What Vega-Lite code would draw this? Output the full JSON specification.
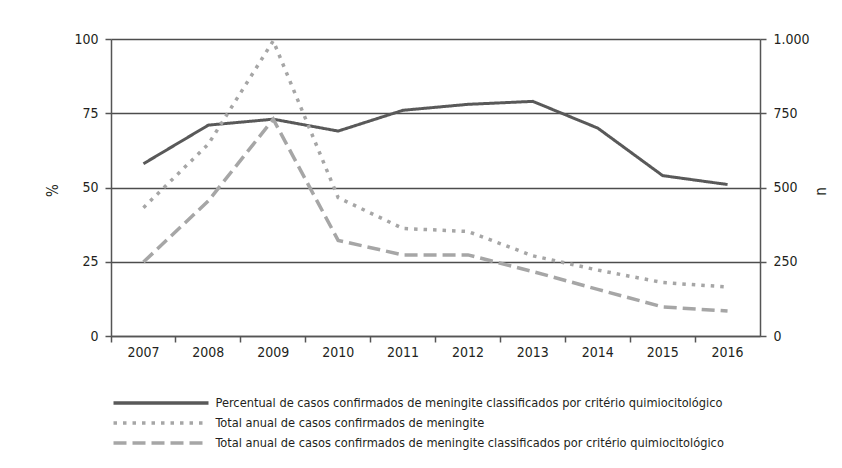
{
  "$schema": "https://vega.github.io/schema/vega-lite/v6.json",
  "width": 649,
  "height": 297,
  "autosize": {"type": "none"},
  "padding": {"left": 111, "top": 39, "right": 82, "bottom": 132},
  "background": "white",
  "config": {
    "view": {"stroke": null},
    "font": "DejaVu Sans Condensed, Liberation Sans Narrow, sans-serif",
    "axis": {
      "labelFont": "DejaVu Sans Condensed, Liberation Sans Narrow, sans-serif",
      "titleFont": "DejaVu Sans Condensed, Liberation Sans Narrow, sans-serif",
      "labelFontSize": 14,
      "labelColor": "#231f20",
      "titleFontSize": 15,
      "titleFontWeight": "normal",
      "titleColor": "#231f20",
      "domainColor": "#555555",
      "domainWidth": 1.5,
      "tickColor": "#555555",
      "tickWidth": 1.5,
      "tickSize": 6
    },
    "legend": {
      "orient": "none",
      "legendX": 0.5,
      "legendY": 354,
      "padding": 0,
      "direction": "vertical",
      "symbolType": "stroke",
      "symbolSize": 9025,
      "symbolStrokeWidth": 3.5,
      "clipHeight": 20,
      "rowPadding": 0,
      "labelFont": "DejaVu Sans Condensed, Liberation Sans Narrow, sans-serif",
      "labelFontSize": 12.7,
      "labelColor": "#231f20",
      "labelOffset": 5,
      "labelLimit": 700
    }
  },
  "data": {
    "values": [
      {"ano": "2007", "eixo": "pct", "serie": "Percentual de casos confirmados de meningite classificados por critério quimiocitológico", "valor": 58},
      {"ano": "2008", "eixo": "pct", "serie": "Percentual de casos confirmados de meningite classificados por critério quimiocitológico", "valor": 71},
      {"ano": "2009", "eixo": "pct", "serie": "Percentual de casos confirmados de meningite classificados por critério quimiocitológico", "valor": 73},
      {"ano": "2010", "eixo": "pct", "serie": "Percentual de casos confirmados de meningite classificados por critério quimiocitológico", "valor": 69},
      {"ano": "2011", "eixo": "pct", "serie": "Percentual de casos confirmados de meningite classificados por critério quimiocitológico", "valor": 76},
      {"ano": "2012", "eixo": "pct", "serie": "Percentual de casos confirmados de meningite classificados por critério quimiocitológico", "valor": 78},
      {"ano": "2013", "eixo": "pct", "serie": "Percentual de casos confirmados de meningite classificados por critério quimiocitológico", "valor": 79},
      {"ano": "2014", "eixo": "pct", "serie": "Percentual de casos confirmados de meningite classificados por critério quimiocitológico", "valor": 70},
      {"ano": "2015", "eixo": "pct", "serie": "Percentual de casos confirmados de meningite classificados por critério quimiocitológico", "valor": 54},
      {"ano": "2016", "eixo": "pct", "serie": "Percentual de casos confirmados de meningite classificados por critério quimiocitológico", "valor": 51},
      {"ano": "2007", "eixo": "n", "serie": "Total anual de casos confirmados de meningite", "valor": 432},
      {"ano": "2008", "eixo": "n", "serie": "Total anual de casos confirmados de meningite", "valor": 646},
      {"ano": "2009", "eixo": "n", "serie": "Total anual de casos confirmados de meningite", "valor": 994},
      {"ano": "2010", "eixo": "n", "serie": "Total anual de casos confirmados de meningite", "valor": 466},
      {"ano": "2011", "eixo": "n", "serie": "Total anual de casos confirmados de meningite", "valor": 362},
      {"ano": "2012", "eixo": "n", "serie": "Total anual de casos confirmados de meningite", "valor": 352},
      {"ano": "2013", "eixo": "n", "serie": "Total anual de casos confirmados de meningite", "valor": 270},
      {"ano": "2014", "eixo": "n", "serie": "Total anual de casos confirmados de meningite", "valor": 222},
      {"ano": "2015", "eixo": "n", "serie": "Total anual de casos confirmados de meningite", "valor": 180},
      {"ano": "2016", "eixo": "n", "serie": "Total anual de casos confirmados de meningite", "valor": 165},
      {"ano": "2007", "eixo": "n", "serie": "Total anual de casos confirmados de meningite classificados por critério quimiocitológico", "valor": 249},
      {"ano": "2008", "eixo": "n", "serie": "Total anual de casos confirmados de meningite classificados por critério quimiocitológico", "valor": 455},
      {"ano": "2009", "eixo": "n", "serie": "Total anual de casos confirmados de meningite classificados por critério quimiocitológico", "valor": 730},
      {"ano": "2010", "eixo": "n", "serie": "Total anual de casos confirmados de meningite classificados por critério quimiocitológico", "valor": 322},
      {"ano": "2011", "eixo": "n", "serie": "Total anual de casos confirmados de meningite classificados por critério quimiocitológico", "valor": 273},
      {"ano": "2012", "eixo": "n", "serie": "Total anual de casos confirmados de meningite classificados por critério quimiocitológico", "valor": 273},
      {"ano": "2013", "eixo": "n", "serie": "Total anual de casos confirmados de meningite classificados por critério quimiocitológico", "valor": 217},
      {"ano": "2014", "eixo": "n", "serie": "Total anual de casos confirmados de meningite classificados por critério quimiocitológico", "valor": 157},
      {"ano": "2015", "eixo": "n", "serie": "Total anual de casos confirmados de meningite classificados por critério quimiocitológico", "valor": 98},
      {"ano": "2016", "eixo": "n", "serie": "Total anual de casos confirmados de meningite classificados por critério quimiocitológico", "valor": 84}
    ]
  },
  "encoding": {
    "x": {
      "field": "ano",
      "type": "ordinal",
      "bandPosition": 0.5,
      "scale": {"type": "band", "paddingInner": 0, "paddingOuter": 0},
      "axis": {"title": null, "bandPosition": 0, "labelAngle": 0, "labelPadding": 3, "grid": false}
    },
    "color": {
      "field": "serie",
      "type": "nominal",
      "title": null,
      "scale": {
        "domain": [
          "Percentual de casos confirmados de meningite classificados por critério quimiocitológico",
          "Total anual de casos confirmados de meningite",
          "Total anual de casos confirmados de meningite classificados por critério quimiocitológico"
        ],
        "range": ["#595959", "#a6a6a6", "#a6a6a6"]
      }
    },
    "strokeDash": {
      "field": "serie",
      "type": "nominal",
      "title": null,
      "scale": {
        "domain": [
          "Percentual de casos confirmados de meningite classificados por critério quimiocitológico",
          "Total anual de casos confirmados de meningite",
          "Total anual de casos confirmados de meningite classificados por critério quimiocitológico"
        ],
        "range": [[1, 0], [3.5, 6], [13, 6]]
      }
    }
  },
  "layer": [
    {
      "transform": [{"filter": {"field": "eixo", "equal": "pct"}}],
      "mark": {"type": "line", "strokeWidth": 3},
      "encoding": {
        "y": {
          "field": "valor",
          "type": "quantitative",
          "scale": {"domain": [0, 100], "nice": false},
          "axis": {
            "orient": "left",
            "title": "%",
            "values": [0, 25, 50, 75, 100],
            "grid": true,
            "gridColor": "#4d4d4d",
            "gridWidth": 1.5,
            "labelPadding": 7,
            "titleAngle": -90,
            "titleX": -59,
            "titleY": 151,
            "titleAlign": "center",
            "titleBaseline": "middle"
          }
        }
      }
    },
    {
      "transform": [{"filter": {"field": "eixo", "equal": "n"}}],
      "mark": {"type": "line", "strokeWidth": 3.5},
      "encoding": {
        "y": {
          "field": "valor",
          "type": "quantitative",
          "scale": {"domain": [0, 1000], "nice": false},
          "axis": {
            "orient": "right",
            "title": "n",
            "values": [0, 250, 500, 750, 1000],
            "labelExpr": "datum.value == 1000 ? '1.000' : datum.label",
            "grid": false,
            "labelPadding": 7,
            "titleAngle": -90,
            "titleX": 60,
            "titleY": 152,
            "titleAlign": "center",
            "titleBaseline": "middle"
          }
        }
      }
    }
  ],
  "resolve": {"scale": {"y": "independent"}}
}
